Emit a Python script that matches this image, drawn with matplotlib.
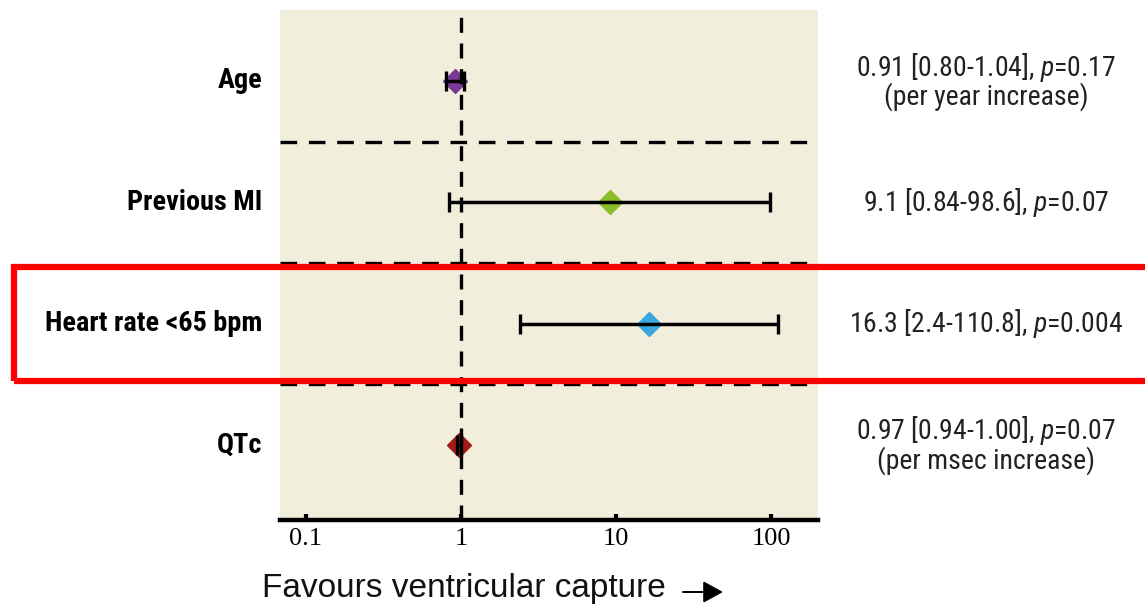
import matplotlib
matplotlib.use("Agg")
import matplotlib.pyplot as plt
from matplotlib.patches import Rectangle, FancyArrowPatch
from matplotlib import font_manager as fm

# ---------------- data ----------------
labels = ["Age", "Previous MI", "Heart rate <65 bpm", "QTc"]
odds = [0.91, 9.1, 16.3, 0.97]
ci_low = [0.80, 0.84, 2.4, 0.94]
ci_high = [1.04, 98.6, 110.8, 1.00]
pvals = ["0.17", "0.07", "0.004", "0.07"]
ci_text = ["0.91 [0.80-1.04]", "9.1 [0.84-98.6]", "16.3 [2.4-110.8]", "0.97 [0.94-1.00]"]
notes = ["(per year increase)", "", "", "(per msec increase)"]
colors = ["#7B3A96", "#8CBD2A", "#3AA8E0", "#A11A1A"]
xticks = [0.1, 1, 10, 100]
xticklabels = ["0.1", "1", "10", "100"]
xlabel = "Favours ventricular capture"

# ---------------- fonts ----------------
# look for a condensed sans face; fall back to Roboto
cond = [f for f in fm.fontManager.ttflist
        if ("condensed" in str(f.stretch).lower() or "narrow" in f.name.lower()
            or "condensed" in f.name.lower())]
cond_names = sorted({f.name for f in cond})
narrow = None
stretch = "normal"
for pref in ["Liberation Sans Narrow", "Roboto Condensed", "DejaVu Sans",
             "Noto Sans", "Open Sans"]:
    for f in cond:
        if f.name == pref or f.name.startswith(pref):
            narrow = f.name
            stretch = f.stretch if isinstance(f.stretch, str) else "condensed"
            break
    if narrow:
        break
if narrow is None and cond_names:
    narrow = cond_names[0]
    stretch = "condensed"
if narrow is None:
    narrow = "Roboto"
    lab_fs, txt_fs = 17.5, 17.5
else:
    lab_fs, txt_fs = 20.3, 20
if stretch == "normal":
    stretch = "condensed"

plt.rcParams["font.family"] = [narrow, "DejaVu Sans"]
plt.rcParams["font.stretch"] = stretch
plt.rcParams["mathtext.fontset"] = "custom"
plt.rcParams["mathtext.it"] = narrow + ":italic"
plt.rcParams["mathtext.rm"] = narrow

W, H = 1145, 604
fig = plt.figure(figsize=(W / 100, H / 100), dpi=100)
ax = fig.add_axes([280 / W, 1 - 520 / H, 538 / W, 510 / H])
bg = "#F2EEDC"
ax.set_facecolor(bg)

ax.set_xscale("log")
ax.set_xlim(0.068, 201)
ax.set_ylim(3.62, -0.585)

ys = list(range(len(labels)))

# separators
for i in range(len(labels) - 1):
    ax.axhline(i + 0.5, color="black", lw=2.4, dashes=(5, 3.5), zorder=1)

# markers
for y, o, c in zip(ys, odds, colors):
    ax.plot(o, y, marker="D", ms=12.5, color=c, mec=c, zorder=3, ls="none")

# error bars
for y, o, lo, hi in zip(ys, odds, ci_low, ci_high):
    ax.errorbar(o, y, xerr=[[o - lo], [hi - o]], fmt="none", ecolor="black",
                elinewidth=2.5, capsize=7, capthick=2.4, zorder=4)

# reference line
ax.axvline(1, color="black", lw=2.4, dashes=(4.5, 3.2), zorder=5)

# axes styling
for s in ["top", "left", "right"]:
    ax.spines[s].set_visible(False)
ax.spines["bottom"].set_linewidth(3.2)
ax.spines["bottom"].set_zorder(6)
ax.set_yticks([])
ax.set_xticks(xticks)
ax.set_xticklabels(xticklabels)
ax.minorticks_off()
ax.tick_params(axis="x", direction="in", length=4, width=3, pad=6, labelsize=19)
for t in ax.get_xticklabels():
    t.set_fontfamily(["Liberation Serif", "DejaVu Serif"])
    t.set_fontstretch("normal")

# left labels
for y, lab in zip(ys, labels):
    ax.text(-18 / 538, y, lab, transform=ax.get_yaxis_transform(),
            ha="right", va="center", fontsize=lab_fs, fontweight="bold",
            family=[narrow, "DejaVu Sans"], fontstretch=stretch)

# right annotations
for y, ct, p, nt in zip(ys, ci_text, pvals, notes):
    s = ct + r", $p$=" + p
    if nt:
        s = s + "\n" + nt
    ax.text((986 - 280) / 538, y, s, transform=ax.get_yaxis_transform(),
            ha="center", va="center", fontsize=txt_fs, linespacing=0.95,
            family=[narrow, "DejaVu Sans"], fontstretch=stretch, color="#222222")

# x label with arrow
fig.text(262 / W, 1 - 588 / H, xlabel, ha="left", va="center", fontsize=24,
         family=["Liberation Sans", "DejaVu Sans"], fontstretch="normal",
         color="#111111")
fig.add_artist(FancyArrowPatch(
    (683 / W, 1 - 592 / H), (723 / W, 1 - 592 / H), transform=fig.transFigure,
    arrowstyle="-|>,head_length=0.55,head_width=0.3", mutation_scale=22,
    lw=1.4, color="black", shrinkA=0, shrinkB=0))

# red highlight box
fig.add_artist(Rectangle((14 / W, 1 - 381 / H), (1160 - 14) / W, (381 - 267) / H,
                         transform=fig.transFigure, fill=False, ec="#FF0000",
                         lw=4.5, clip_on=False, zorder=10))

fig.savefig("out.png", dpi=100, facecolor="white")
